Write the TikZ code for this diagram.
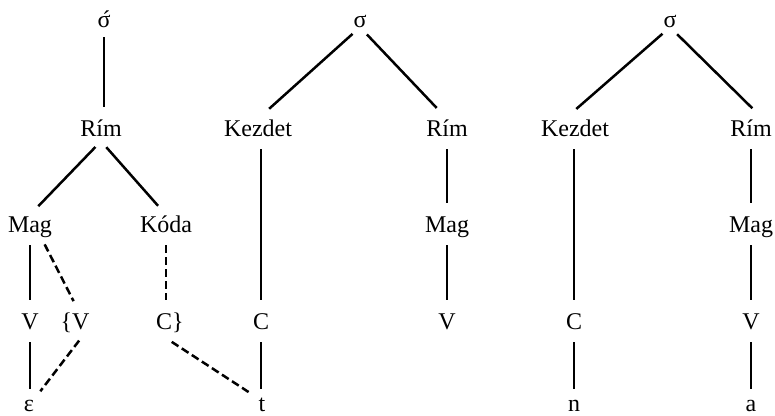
\documentclass[tikz,border=0pt]{standalone}
\usepackage{fontspec}
\setmainfont{Liberation Serif}
\begin{document}
\begin{tikzpicture}[x=1pt,y=-1pt,
  lab/.style={anchor=base, inner sep=0pt, text height=17pt, text depth=5pt, font=\fontsize{24}{28}\selectfont},
  toprow/.style={lab, text height=12pt, text depth=0pt},
  lowrow/.style={lab, text height=10pt, text depth=0pt},
  ln/.style={line width=2.5pt, shorten <=8pt, shorten >=12pt},
  dsh/.style={ln, dash pattern=on 8pt off 4pt},
  topedge/.style={ln, shorten <=10pt, shorten >=15pt}]
\useasboundingbox[fill=white] (0,0) rectangle (775,415);
% tree 1
\node[toprow] (s1) at (104,27) {σ\llap{\raisebox{0pt}{^^^^00b4}}};
\node[lab] (r1) at (101,136) {Rím};
\node[lab] (m1) at (30,232) {Mag};
\node[lab] (k1) at (166,232) {Kóda};
\node[lab] (v1) at (30,329) {V};
\node[lab] (vb) at (75,329) {\{V};
\node[lab] (cb) at (170,329) {C\}};
\node[lowrow] (e1) at (29,411) {ε};
\node[lowrow] (t) at (262,411) {t};
% tree 2
\node[toprow] (s2) at (360,27) {σ};
\node[lab] (kz2) at (258,136) {Kezdet};
\node[lab] (r2) at (447,136) {Rím};
\node[lab] (m2) at (447,232) {Mag};
\node[lab] (c2) at (261,329) {C};
\node[lab] (v2) at (447,329) {V};
% tree 3
\node[toprow] (s3) at (670,27) {σ};
\node[lab] (kz3) at (575,136) {Kezdet};
\node[lab] (r3) at (751,136) {Rím};
\node[lab] (m3) at (751,232) {Mag};
\node[lab] (c3) at (574,329) {C};
\node[lab] (v3) at (751,329) {V};
\node[lowrow] (n3) at (574,411) {n};
\node[lowrow] (a3) at (751,411) {a};
% edges tree 1
\draw[ln, shorten <=10pt] (s1.south) -- (s1.south |- r1.north);
\draw[ln] (r1.south) -- (m1.north);
\draw[ln] (r1.south) -- (k1.north);
\draw[ln] (m1.south) -- (v1.north);
\draw[dsh] ([xshift=11pt]m1.south) -- ([xshift=4pt]vb.north);
\draw[dsh] (k1.south) -- (k1.south |- cb.north);
\draw[ln] (v1.south) -- (v1.south |- e1.north);
\draw[dsh] ([xshift=9pt]vb.south) -- ([xshift=4pt]e1.north);
\draw[dsh, shorten <=14pt, shorten >=16pt] ([xshift=-10pt]cb.south) -- (t.north);
% edges tree 2
\draw[topedge] (s2.south) -- (kz2.north);
\draw[topedge] (s2.south) -- (r2.north);
\draw[ln] (kz2.south -| c2) -- (c2.north);
\draw[ln] (c2.south) -- (c2.south |- t.north);
\draw[ln] (r2.south) -- (m2.north);
\draw[ln] (m2.south) -- (v2.north);
% edges tree 3
\draw[topedge] (s3.south) -- ([xshift=-10pt]kz3.north);
\draw[topedge] (s3.south) -- ([xshift=12pt]r3.north);
\draw[ln] (kz3.south -| c3) -- (c3.north);
\draw[ln] (c3.south) -- (n3.north);
\draw[ln] (r3.south) -- (m3.north);
\draw[ln] (m3.south) -- (v3.north);
\draw[ln] (v3.south) -- (a3.north);
\end{tikzpicture}
\end{document}
